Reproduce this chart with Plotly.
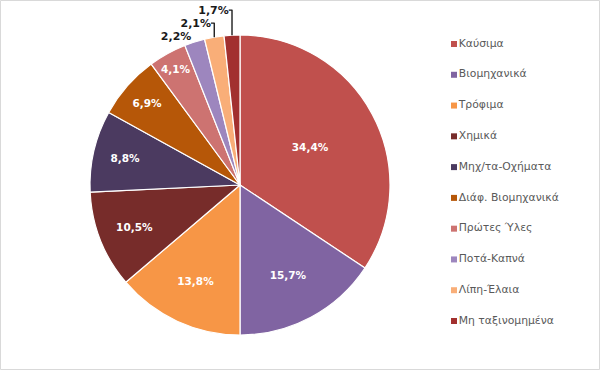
import plotly.graph_objects as go

categories = ["Καύσιμα", "Βιομηχανικά", "Τρόφιμα", "Χημικά", "Μηχ/τα-Οχήματα",
              "Διάφ. Βιομηχανικά", "Πρώτες Ύλες", "Ποτά-Καπνά", "Λίπη-Έλαια", "Μη ταξινομημένα"]
values = [34.4, 15.7, 13.8, 10.5, 8.8, 6.9, 4.1, 2.2, 2.1, 1.7]
colors = ["#C0504D", "#8064A2", "#F79646", "#772C2A", "#4B3A60",
          "#B65708", "#CD7371", "#9D86BE", "#F9AE78", "#A2302F"]
label_pos = ["inside"] * 7 + ["outside"] * 3

texts = [f"{v:.1f}".replace(".", ",") + "%" for v in values]
text_colors = ["white" if p == "inside" else "#1a1a1a" for p in label_pos]

fig = go.Figure()
fig.add_trace(go.Pie(
    labels=categories, values=values, sort=False, direction="clockwise", rotation=0,
    marker=dict(colors=colors, line=dict(color="white", width=1.2)),
    text=texts, textinfo="text", textposition=label_pos,
    insidetextorientation="horizontal",
    textfont=dict(family="DejaVu Sans", size=10.5, color=text_colors, weight="bold"),
    outsidetextfont=dict(family="DejaVu Sans", size=11, color="#1a1a1a", weight="bold"),
    domain=dict(x=[90/600, 390/600], y=[1-335/370, 1-35/370]),
    showlegend=False, automargin=False, hoverinfo="label+percent",
))

# legend drawn as a marker+text scatter
fig.add_trace(go.Scatter(
    x=[0] * len(categories), y=list(range(len(categories))),
    mode="markers+text", text=categories, textposition="middle right",
    marker=dict(symbol="square", size=6, color=colors),
    textfont=dict(family="DejaVu Sans", size=10.8, color="#595959"),
    cliponaxis=False, showlegend=False, hoverinfo="skip",
))

fig.update_layout(
    width=600, height=370, margin=dict(l=0, r=0, t=0, b=0),
    paper_bgcolor="white", plot_bgcolor="rgba(0,0,0,0)",
    xaxis=dict(domain=[454/600, 1], range=[0, 1], visible=False, fixedrange=True),
    yaxis=dict(domain=[1-321/370, 1-44/370], range=[9, 0], visible=False, fixedrange=True),
    shapes=[dict(type="rect", xref="paper", yref="paper",
                 x0=0.5/600, x1=1-0.5/600, y0=0.5/370, y1=1-0.5/370,
                 line=dict(color="#D9D9D9", width=1))],
)

fig.write_html("out.html", config={"displayModeBar": False})

# remove the default page margin so the figure sits at the window's origin
with open("out.html", "r", encoding="utf-8") as f:
    html = f.read()
html = html.replace("<head>", "<head><style>html,body{margin:0;padding:0;overflow:hidden;}</style>", 1)
with open("out.html", "w", encoding="utf-8") as f:
    f.write(html)
